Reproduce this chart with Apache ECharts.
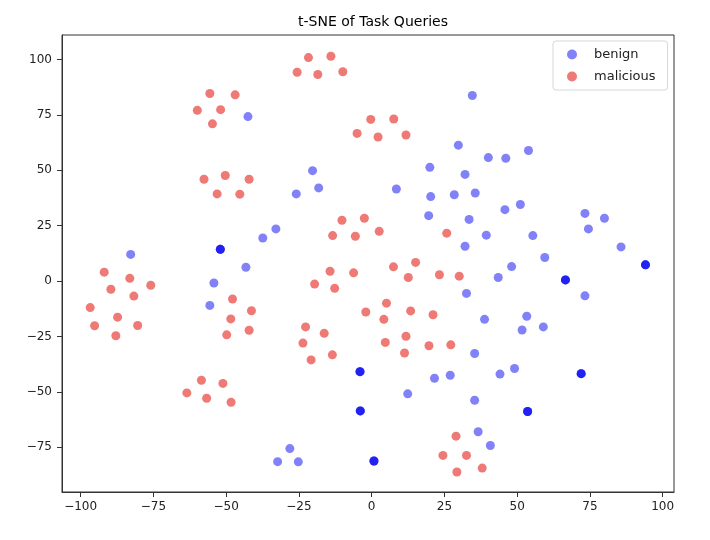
<!DOCTYPE html>
<html>
<head>
<meta charset="utf-8">
<title>t-SNE of Task Queries</title>
<script src="https://cdn.jsdelivr.net/npm/echarts@6/dist/echarts.min.js"></script>
<style>
  html, body { margin: 0; padding: 0; background: #fff; }
  #chart { width: 710px; height: 540px; }
</style>
</head>
<body>
<div id="chart"></div>
<script>
const seriesNames = ["benign", "malicious"];
const xTicks = [-100, -75, -50, -25, 0, 25, 50, 75, 100];
const yTicks = [-75, -50, -25, 0, 25, 50, 75, 100];

// embeddings; overlapping (darker) points listed several times
const benign = [
  [34.6, 83.7], [-42.5, 74.2], [29.8, 61.3], [40.1, 55.7], [46.1, 55.4],
  [53.9, 58.9], [20.0, 51.3], [32.1, 48.1], [-20.3, 49.8], [-18.2, 42.0],
  [-25.9, 39.3], [8.5, 41.5], [20.3, 38.1], [28.4, 38.9], [35.6, 39.7],
  [45.8, 32.2], [51.1, 34.5], [19.6, 29.5], [33.5, 27.8], [39.4, 20.7],
  [32.1, 15.7], [55.4, 20.5], [59.5, 10.6], [48.1, 6.5], [43.5, 1.6],
  [32.6, -5.6], [73.3, 30.5], [80.0, 28.3], [74.5, 23.5], [85.7, 15.4],
  [94.1, 7.3], [94.1, 7.3], [94.1, 7.3], [66.6, 0.5], [66.6, 0.5], [66.6, 0.5],
  [73.3, -6.7],
  [38.8, -17.3], [53.3, -15.9], [51.7, -22.1], [59.0, -20.7], [35.4, -32.7],
  [49.1, -39.5], [44.1, -42.0], [27.0, -42.5], [21.6, -43.9],
  [72.0, -41.8], [72.0, -41.8], [72.0, -41.8], [12.4, -50.9], [35.4, -53.8],
  [53.6, -58.9], [53.6, -58.9], [53.6, -58.9],
  [-4.0, -40.9], [-4.0, -40.9], [-4.0, -40.9],
  [-3.9, -58.6], [-3.9, -58.6], [-3.9, -58.6],
  [0.8, -81.2], [0.8, -81.2], [0.8, -81.2],
  [36.6, -68.0], [40.8, -74.2], [-28.1, -75.6], [-32.3, -81.5], [-25.2, -81.6],
  [-82.8, 12.0], [-52.0, 14.3], [-52.0, 14.3], [-52.0, 14.3], [-37.4, 19.4],
  [-32.9, 23.5], [-43.2, 6.2], [-54.2, -0.9], [-55.6, -11.0]
];

const malicious = [
  [-21.7, 100.8], [-14.0, 101.4], [-25.6, 94.2], [-18.5, 93.2], [-9.9, 94.4],
  [-55.6, 84.6], [-46.9, 84.0], [-59.9, 77.0], [-51.9, 77.3], [-54.7, 70.9],
  [-0.3, 72.9], [7.6, 73.1], [-5.0, 66.6], [2.2, 65.0], [11.8, 65.9],
  [-57.6, 45.9], [-50.3, 47.6], [-42.1, 45.9], [-53.1, 39.3], [-45.3, 39.2],
  [-10.2, 27.4], [-2.5, 28.3], [-13.4, 20.5], [-5.6, 20.2], [2.6, 22.4],
  [25.8, 21.6],
  [-14.3, 4.4], [-6.2, 3.7], [-19.6, -1.4], [-12.7, -3.3], [7.5, 6.4],
  [15.1, 8.4], [12.6, 1.6], [23.3, 2.8], [30.1, 2.2],
  [-91.9, 4.0], [-83.1, 1.2], [-89.6, -3.7], [-75.9, -1.9], [-81.7, -6.8],
  [-96.7, -12.0], [-87.3, -16.3], [-95.2, -20.2], [-80.4, -20.1], [-87.9, -24.7],
  [-47.8, -8.1], [-41.3, -13.4], [-48.4, -17.1], [-49.8, -24.3], [-42.1, -22.2],
  [-22.7, -20.7], [-16.3, -23.6], [-23.6, -28.0], [-20.8, -35.6], [-13.5, -33.3],
  [5.1, -10.0], [-2.0, -14.0], [4.2, -17.3], [13.4, -13.5], [4.7, -27.7],
  [11.8, -24.9], [11.3, -32.5], [21.1, -15.2], [19.7, -29.2], [27.2, -28.8],
  [-58.5, -44.8], [-51.1, -46.2], [-63.5, -50.5], [-56.7, -52.9], [-48.3, -54.7],
  [29.0, -70.0], [24.5, -78.7], [32.6, -78.7], [29.3, -86.2], [38.0, -84.4]
];

const minus = v => String(v).replace('-', '\u2212');

const chart = echarts.init(document.getElementById('chart'));
chart.setOption({
  animation: false,
  title: {
    text: 't-SNE of Task Queries',
    left: 368,
    top: 10,
    textAlign: 'center',
    textStyle: { fontFamily: 'DejaVu Sans', fontSize: 14, fontWeight: 'normal', color: '#000' }
  },
  legend: {
    orient: 'vertical',
    left: 553,
    top: 41,
    data: seriesNames,
    icon: 'circle',
    itemWidth: 10,
    itemHeight: 10,
    itemGap: 9,
    padding: [7, 12, 7, 14],
    borderColor: '#d6d6d6',
    borderWidth: 1,
    borderRadius: 3,
    textStyle: { fontFamily: 'DejaVu Sans', fontSize: 13, color: '#222', padding: [0, 0, 0, 12] }
  },
  grid: {
    left: 62, right: 36, top: 35, bottom: 48,
    show: true, borderColor: '#333', borderWidth: 1, backgroundColor: '#fff'
  },
  xAxis: {
    type: 'value',
    min: -106.4,
    max: 103.9,
    splitLine: { show: false },
    axisLine: { onZero: false, lineStyle: { color: '#333' } },
    axisTick: { length: 5, customValues: xTicks, lineStyle: { color: '#333' } },
    axisLabel: {
      customValues: xTicks, formatter: minus, margin: 9,
      fontFamily: 'DejaVu Sans', fontSize: 12, color: '#222'
    }
  },
  yAxis: {
    type: 'value',
    min: -95.2,
    max: 111.0,
    splitLine: { show: false },
    axisLine: { onZero: false, lineStyle: { color: '#333' } },
    axisTick: { length: 5, customValues: yTicks, lineStyle: { color: '#333' } },
    axisLabel: {
      customValues: yTicks, formatter: minus, margin: 10,
      fontFamily: 'DejaVu Sans', fontSize: 12, color: '#222'
    }
  },
  series: [
    {
      name: seriesNames[0],
      type: 'scatter',
      data: benign,
      symbolSize: 9,
      itemStyle: { color: 'rgba(0,0,240,0.62)' }
    },
    {
      name: seriesNames[1],
      type: 'scatter',
      data: malicious,
      symbolSize: 9,
      itemStyle: { color: 'rgba(225,22,16,0.72)' }
    }
  ]
});
</script>
</body>
</html>
